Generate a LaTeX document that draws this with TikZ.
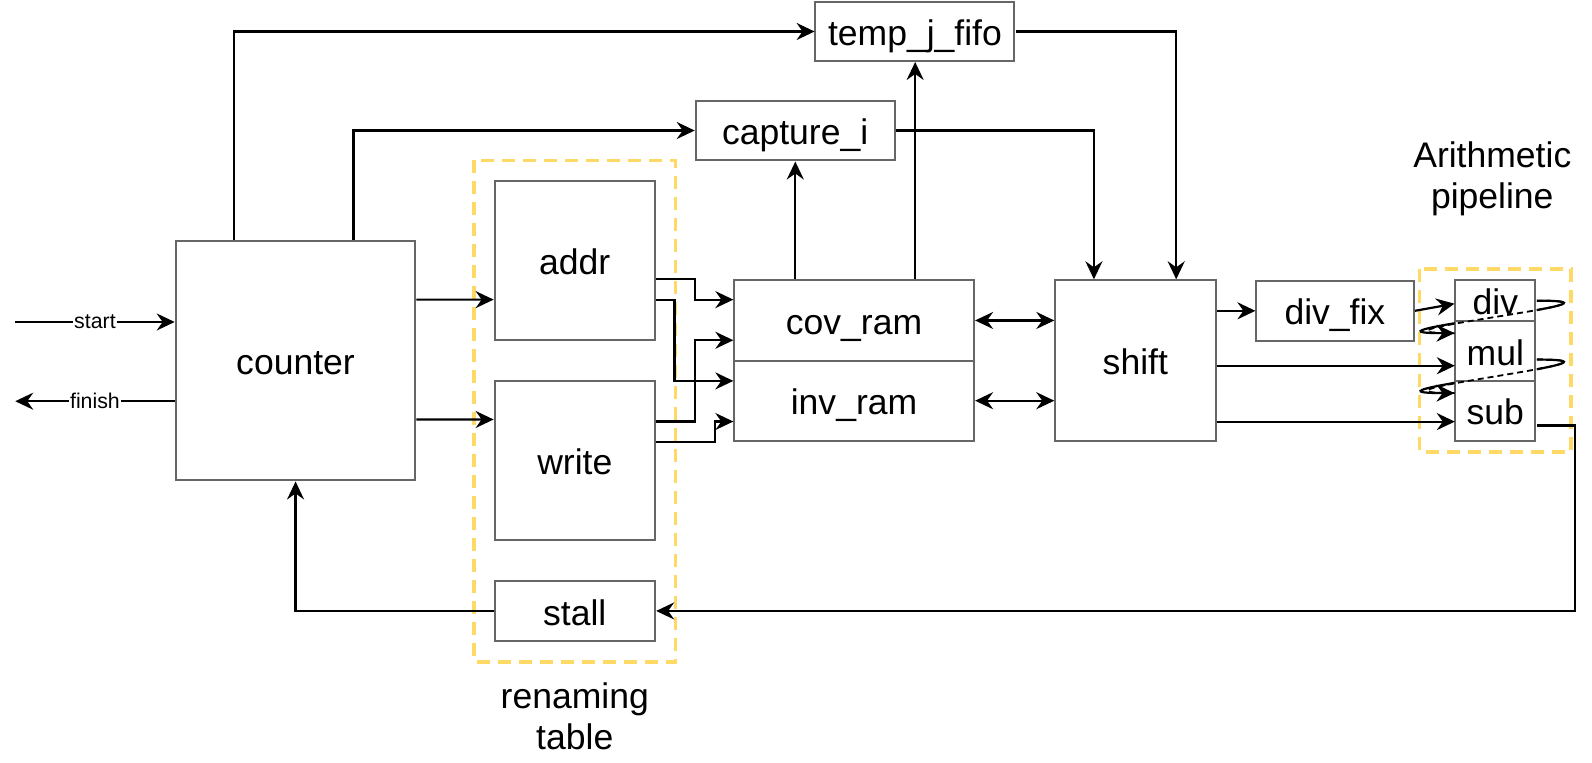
\documentclass[tikz,border=0pt]{standalone}
\usepackage{fontspec}
\setmainfont{Liberation Sans}
\usetikzlibrary{arrows.meta,calc}
\definecolor{bordergray}{HTML}{666666}
\definecolor{dashyellow}{HTML}{FFD966}
\begin{document}
\begin{tikzpicture}[x=1pt,y=-1pt,scale=1.0155,transform shape,
  box/.style={draw=bordergray,line width=2pt,fill=white,inner sep=0pt,
    text height=32pt,text depth=4pt,font=\fontsize{35}{42}\selectfont},
  conn/.style={line width=2.2pt,->},
  biconn/.style={line width=2.2pt,<->},
  plain/.style={line width=2.2pt},
  dashpart/.style={line width=1.8pt,dash pattern=on 6pt off 4pt},
  lbl/.style={fill=white,inner sep=1pt,font=\fontsize{21}{25}\selectfont},
  caption/.style={anchor=base,inner sep=0pt,font=\fontsize{35}{42}\selectfont},
  group/.style={draw=dashyellow,line width=3.5pt,dash pattern=on 13pt off 8pt},
  >={Stealth[length=18pt,width=17pt,inset=6pt]}]
\useasboundingbox (0,0) rectangle (1567.7,750.4);

% groups
\draw[group] (467,158) rectangle (665,652);
\draw[group] (1398,265) rectangle (1547,445);
\node[caption] (cap1) at (566,697.2) {renaming};
\node[caption] (cap2) at (566,738.5) {table};
\node[caption] (cap3) at (1469.5,165.4) {Arithmetic};
\node[caption] (cap4) at (1469.5,205.8) {pipeline};

% nodes
\node[box,minimum width=236pt,minimum height=236pt] (counter) at (291,355) {counter};
\node[box,minimum width=196pt,minimum height=58pt] (temp) at (901,31) {temp\_j\_fifo};
\node[box,minimum width=196pt,minimum height=59pt] (capture) at (783,128.5) {capture\_i};
\node[box,minimum width=158pt,minimum height=157pt] (addr) at (566,256.5) {addr};
\node[box,minimum width=158pt,minimum height=157pt] (write) at (566,453.5) {write};
\node[box,minimum width=158pt,minimum height=59pt] (stall) at (566,601.5) {stall};
\node[box,minimum width=236pt,minimum height=79pt] (cov) at (841,315.5) {cov\_ram};
\node[box,minimum width=236pt,minimum height=79pt] (inv) at (841,394.5) {inv\_ram};
\node[box,minimum width=158pt,minimum height=158pt] (shift) at (1118,355) {shift};
\node[box,minimum width=155pt,minimum height=59pt] (divfix) at (1314.5,306) {div\_fix};
\node[box,minimum width=79pt,minimum height=40pt] (div) at (1472.5,296) {div};
\node[box,minimum width=79pt,minimum height=59pt] (mul) at (1472.5,345.5) {mul};
\node[box,minimum width=79pt,minimum height=59pt] (sub) at (1472.5,404.5) {sub};

% start / finish
\coordinate (s0) at (15,317);
\coordinate (f0) at (15,395);
\draw[conn] (s0) -- node[lbl] {start} (s0 -| counter.west);
\draw[conn] (f0 -| counter.west) -- node[lbl] {finish} (f0);

% counter outputs
\draw[conn] ($(counter.north west)+(58,0)$) |- (temp.west);
\draw[conn] ($(counter.north west)+(176,0)$) |- (capture.west);
\draw[conn] ($(counter.north east)+(0,59)$) -- ($(addr.north west)+(0,118)$);
\draw[conn] ($(counter.north east)+(0,177)$) -- ($(write.north west)+(0,39)$);

% renaming table -> rams
\draw[conn] ($(addr.north east)+(0,98)$) -| ($(cov.north west)+(-38,20)$) -- ($(cov.north west)+(0,20)$);
\draw[conn] ($(addr.north east)+(0,118)$) -| ($(inv.north west)+(-58,21)$) -- ($(inv.north west)+(0,21)$);
\draw[conn] ($(write.north east)+(0,41)$) -| ($(cov.north west)+(-38,60)$) -- ($(cov.north west)+(0,60)$);
\draw[conn] ($(write.north east)+(0,61)$) -| ($(inv.north west)+(-18,61)$) -- ($(inv.north west)+(0,61)$);

% rams -> capture / fifo
\draw[conn] (capture.south |- cov.north) -- (capture.south);
\draw[conn] (temp.south |- cov.north) -- (temp.south);
\draw[conn] (capture.east) -| ($(shift.north west)+(39,0)$);
\draw[conn] (temp.east) -| ($(shift.north east)+(-40,0)$);

% rams <-> shift
\draw[biconn] (cov.east) -- (shift.west |- cov.east);
\draw[biconn] (inv.east) -- (shift.west |- inv.east);

% shift -> pipeline
\coordinate (mulin) at ($(mul.north west)+(0,45)$);
\coordinate (subin) at ($(sub.north west)+(0,41)$);
\draw[conn] (shift.east |- divfix.west) -- (divfix.west);
\draw[conn] (shift.east |- mulin) -- (mulin);
\draw[conn] (shift.east |- subin) -- (subin);
\draw[conn] (divfix.east) -- ($(div.west)+(0,3)$);

% loops div -> mul, mul -> sub
\draw[dashpart] (div.east) .. controls +(118,0) and +(-118,0) .. ($(mul.north west)+(0,13)$);
\draw[dashpart] ($(mul.north east)+(0,39)$) .. controls +(118,0) and +(-118,0) .. ($(sub.north west)+(0,13)$);
\begin{scope}
  \clip ($(div.north east)+(0,-20)$) rectangle ($(sub.south east)+(60,0)$);
  \draw[plain] (div.east) .. controls +(118,0) and +(-118,0) .. ($(mul.north west)+(0,13)$);
  \draw[plain] ($(mul.north east)+(0,39)$) .. controls +(118,0) and +(-118,0) .. ($(sub.north west)+(0,13)$);
\end{scope}
\begin{scope}
  \clip ($(div.north west)+(-60,-20)$) rectangle (sub.south west);
  \draw[conn] (div.east) .. controls +(118,0) and +(-118,0) .. ($(mul.north west)+(0,13)$);
  \draw[conn] ($(mul.north east)+(0,39)$) .. controls +(118,0) and +(-118,0) .. ($(sub.north west)+(0,13)$);
\end{scope}

% feedback
\draw[conn] ($(sub.north east)+(0,45)$) -- ++(38,0) |- (stall.east);
\draw[conn] (stall.west) -| (counter.south);
\end{tikzpicture}
\end{document}
